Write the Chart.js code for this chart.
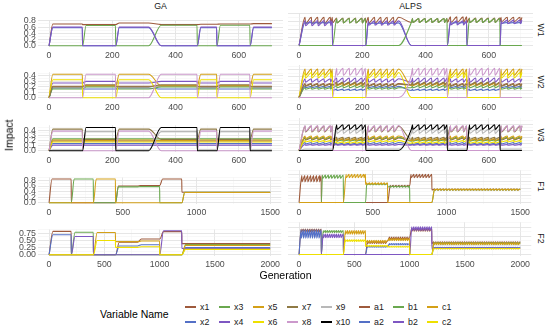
<!DOCTYPE html>
<html>
<head>
<meta charset="utf-8">
<script src="https://cdn.jsdelivr.net/npm/chart.js@4.4.1/dist/chart.umd.min.js"></script>
<style>
  body { margin: 0; background: #fff; width: 550px; height: 331px; overflow: hidden; position: relative;
         font-family: "Liberation Sans", Arial, sans-serif; }
  canvas { position: absolute; }
  .txt { position: absolute; white-space: nowrap; line-height: 1; }
  .strip { font-size: 8.8px; color: #1a1a1a; }
  .key { position: absolute; height: 1.4px; }
</style>
</head>
<body>
<script>
// generations where the environment switches
const wBounds = [0, 105, 210, 335, 468, 530, 635, 705];
const wBlend = [0, 0, 0, 40, 0, 0, 0];
const f1Bounds = [0, 150, 300, 450, 600, 750, 900, 1500];
const f2Bounds = [0, 200, 400, 600, 800, 1000, 1200, 2000];
const noBlend = [0, 0, 0, 0, 0, 0, 0];

// ALPS age-layer restarts (the saw teeth)
const alpsResets = [20, 40, 60, 80, 100, 120, 140, 160, 180, 200, 220, 240, 260, 280, 300, 320, 340, 360, 380, 400,
  420, 440, 460, 480, 500, 520, 540, 560, 580, 600, 620, 640, 660, 680, 700, 720, 740, 760, 780, 800,
  820, 840, 860, 880, 900, 920, 940, 960, 980, 1000, 1020, 1040, 1060, 1080, 1100, 1120, 1140, 1160, 1180, 1200,
  1220, 1240, 1260, 1280, 1300, 1320, 1340, 1360, 1380, 1400, 1420, 1440, 1460, 1480, 1500, 1520, 1540, 1560, 1580, 1600,
  1620, 1640, 1660, 1680, 1700, 1720, 1740, 1760, 1780, 1800, 1820, 1840, 1860, 1880, 1900, 1920, 1940, 1960, 1980];

const w1Vars = ["x1", "x2", "x3", "x4"];
const w2Vars = ["x1", "x2", "x3", "x4", "x5", "x6", "x7", "x8"];
const w3Vars = ["x1", "x2", "x3", "x4", "x5", "x6", "x7", "x8", "x9", "x10"];
const f1Vars = ["a1", "b1", "c1"];
const f2Vars = ["a1", "a2", "b1", "b2", "c1", "c2"];

// plateau level per segment, one row per variable
const gaW1 = [
  [0.70, 0.68, 0.73, 0.68, 0.69, 0.70, 0.71],
  [0.58, 0, 0.58, 0, 0.58, 0, 0.58],
  [0, 0.65, 0, 0.66, 0, 0.66, 0],
  [0.60, 0, 0.60, 0, 0.60, 0, 0.60]
];
const alpsW1Peak = [
  [0.71, 0.69, 0.71, 0.68, 0.72, 0.69, 0.71],
  [0.58, 0, 0.57, 0, 0.58, 0, 0.58],
  [0, 0.68, 0, 0.68, 0, 0.68, 0],
  [0.63, 0, 0.62, 0, 0.62, 0, 0.64]
];
const alpsW1Low = [
  [0.55, 0.57, 0.56, 0.58, 0.58, 0.58, 0.60],
  [0.56, 0, 0.55, 0, 0.56, 0, 0.56],
  [0, 0.57, 0, 0.58, 0, 0.58, 0],
  [0.50, 0, 0.51, 0, 0.52, 0, 0.55]
];

const gaW2 = [
  [0.21, 0.22, 0.21, 0.22, 0.21, 0.22, 0.21],
  [0.18, 0.16, 0.18, 0.16, 0.18, 0.16, 0.18],
  [0.16, 0.20, 0.16, 0.20, 0.16, 0.20, 0.16],
  [0.27, 0.30, 0.27, 0.30, 0.27, 0.30, 0.27],
  [0.43, 0.22, 0.43, 0.22, 0.43, 0.22, 0.43],
  [0.33, 0, 0.33, 0, 0.33, 0, 0.33],
  [0.20, 0.24, 0.20, 0.24, 0.20, 0.24, 0.20],
  [0, 0.43, 0, 0.43, 0, 0.43, 0]
];
const alpsW2Peak = [
  [0.20, 0.21, 0.20, 0.21, 0.20, 0.21, 0.20],
  [0.16, 0.12, 0.16, 0.12, 0.16, 0.12, 0.16],
  [0.14, 0.17, 0.14, 0.17, 0.14, 0.17, 0.14],
  [0.27, 0.28, 0.27, 0.28, 0.27, 0.28, 0.27],
  [0.41, 0.20, 0.41, 0.20, 0.41, 0.20, 0.41],
  [0.36, 0, 0.36, 0, 0.36, 0, 0.36],
  [0.19, 0.22, 0.19, 0.22, 0.19, 0.22, 0.19],
  [0, 0.42, 0, 0.42, 0, 0.42, 0]
];
const alpsW2Low = [
  [0.17, 0.18, 0.17, 0.18, 0.17, 0.18, 0.17],
  [0.14, 0.10, 0.14, 0.10, 0.14, 0.10, 0.14],
  [0.12, 0.14, 0.12, 0.14, 0.12, 0.14, 0.12],
  [0.22, 0.22, 0.22, 0.22, 0.22, 0.22, 0.22],
  [0.32, 0.17, 0.32, 0.17, 0.32, 0.17, 0.32],
  [0.28, 0, 0.28, 0, 0.28, 0, 0.28],
  [0.16, 0.18, 0.16, 0.18, 0.16, 0.18, 0.16],
  [0, 0.32, 0, 0.32, 0, 0.32, 0]
];

const gaW3 = [
  [0.19, 0.19, 0.19, 0.19, 0.19, 0.19, 0.19],
  [0.14, 0.14, 0.14, 0.14, 0.14, 0.14, 0.14],
  [0.23, 0.23, 0.23, 0.23, 0.23, 0.23, 0.23],
  [0.11, 0.11, 0.11, 0.11, 0.11, 0.11, 0.11],
  [0.21, 0.20, 0.21, 0.20, 0.21, 0.20, 0.21],
  [0.17, 0.17, 0.17, 0.17, 0.17, 0.17, 0.17],
  [0.42, 0.22, 0.42, 0.22, 0.42, 0.22, 0.42],
  [0.38, 0, 0.38, 0, 0.38, 0, 0.38],
  [0.02, 0.37, 0.02, 0.37, 0.02, 0.37, 0.02],
  [0, 0.45, 0, 0.45, 0, 0.45, 0]
];
const alpsW3Peak = [
  [0.19, 0.17, 0.19, 0.17, 0.19, 0.17, 0.19],
  [0.12, 0.11, 0.12, 0.11, 0.12, 0.11, 0.12],
  [0.20, 0.16, 0.20, 0.16, 0.20, 0.16, 0.20],
  [0.09, 0.09, 0.09, 0.09, 0.09, 0.09, 0.09],
  [0.22, 0.18, 0.22, 0.18, 0.22, 0.18, 0.22],
  [0.15, 0.13, 0.15, 0.13, 0.15, 0.13, 0.15],
  [0.37, 0.20, 0.37, 0.20, 0.37, 0.20, 0.37],
  [0.38, 0, 0.38, 0, 0.38, 0, 0.38],
  [0.02, 0.32, 0.02, 0.32, 0.02, 0.32, 0.02],
  [0, 0.39, 0, 0.39, 0, 0.39, 0]
];
const alpsW3Low = [
  [0.16, 0.15, 0.16, 0.15, 0.16, 0.15, 0.16],
  [0.10, 0.09, 0.10, 0.09, 0.10, 0.09, 0.10],
  [0.17, 0.14, 0.17, 0.14, 0.17, 0.14, 0.17],
  [0.08, 0.08, 0.08, 0.08, 0.08, 0.08, 0.08],
  [0.18, 0.15, 0.18, 0.15, 0.18, 0.15, 0.18],
  [0.13, 0.11, 0.13, 0.11, 0.13, 0.11, 0.13],
  [0.28, 0.17, 0.28, 0.17, 0.28, 0.17, 0.28],
  [0.29, 0, 0.29, 0, 0.29, 0, 0.29],
  [0.02, 0.26, 0.02, 0.26, 0.02, 0.26, 0.02],
  [0, 0.32, 0, 0.32, 0, 0.32, 0]
];

const gaF1 = [
  [0.85, 0, 0, 0.60, 0.62, 0.85, 0.38],
  [0, 0.85, 0, 0.57, 0.58, 0, 0.38],
  [0, 0, 0.85, 0, 0, 0, 0.37]
];
const alpsF1Peak = [
  [0.76, 0, 0, 0, 0.48, 0.79, 0.38],
  [0, 0.77, 0, 0.53, 0.46, 0, 0.37],
  [0, 0, 0.79, 0.55, 0, 0, 0.38]
];
const alpsF1Low = [
  [0.58, 0, 0, 0, 0.44, 0.70, 0.35],
  [0, 0.68, 0, 0.50, 0.43, 0, 0.35],
  [0, 0, 0.70, 0.51, 0, 0, 0.35]
];

const gaF2 = [
  [0.82, 0, 0, 0.44, 0.55, 0.81, 0.39],
  [0.70, 0, 0, 0.31, 0.35, 0, 0.25],
  [0, 0.79, 0, 0, 0, 0, 0.36],
  [0, 0.64, 0, 0, 0, 0.84, 0.22],
  [0, 0, 0.78, 0.46, 0.48, 0, 0.33],
  [0, 0, 0.50, 0.26, 0.28, 0, 0.19]
];
const alpsF2Peak = [
  [0.70, 0, 0, 0.37, 0.48, 0.72, 0.35],
  [0.68, 0, 0, 0.22, 0.30, 0, 0.20],
  [0, 0.66, 0, 0, 0, 0, 0.33],
  [0, 0.56, 0, 0, 0, 0.76, 0.18],
  [0, 0, 0.66, 0.39, 0.44, 0, 0.32],
  [0, 0, 0.40, 0.25, 0.22, 0, 0.17]
];
const alpsF2Low = [
  [0.62, 0, 0, 0.30, 0.40, 0.64, 0.29],
  [0.45, 0, 0, 0.20, 0.27, 0, 0.18],
  [0, 0.60, 0, 0, 0, 0, 0.28],
  [0, 0.46, 0, 0, 0, 0.66, 0.16],
  [0, 0, 0.56, 0.32, 0.38, 0, 0.27],
  [0, 0, 0.36, 0.22, 0.20, 0, 0.15]
];

// axis breaks
const wXMajor = [0, 200, 400, 600];
const wXMinor = [100, 300, 500, 700];
const f1XMajor = [0, 500, 1000, 1500];
const f1XMinor = [250, 750, 1250];
const f2XMajor = [0, 500, 1000, 1500, 2000];
const f2XMinor = [250, 750, 1250, 1750];
const w1YMajor = [0, 0.2, 0.4, 0.6, 0.8];
const w1YMinor = [0.1, 0.3, 0.5, 0.7];
const w2YMajor = [0, 0.1, 0.2, 0.3, 0.4];
const w2YMinor = [0.05, 0.15, 0.25, 0.35, 0.45];
const f1YMajor = [0, 0.2, 0.4, 0.6, 0.8];
const f1YMinor = [0.1, 0.3, 0.5, 0.7, 0.9];
const f2YMajor = [0, 0.25, 0.5, 0.75];
const f2YMinor = [0.125, 0.375, 0.625, 0.875];

const colors = {
  x1: "#9E5A3C", x2: "#5470C6", x3: "#6AA84F", x4: "#7E57C2", x5: "#D4A017",
  x6: "#EEE000", x7: "#8F7A45", x8: "#CC99CC", x9: "#B8B8B8", x10: "#000000",
  a1: "#9E5A3C", a2: "#5470C6", b1: "#6AA84F", b2: "#7E57C2", c1: "#D4A017", c2: "#EEE000"
};

// GA: plateau per segment, quick rise after a switch
const gaPoints = (levels, bounds, blend, rise) => {
  const pts = [];
  for (let i = 0; i < levels.length; i++) {
    const a = bounds[i], b = bounds[i + 1], v = levels[i];
    const w = blend[i] || 0, wn = blend[i + 1] || 0;
    if (i === 0) pts.push({ x: a, y: 0 });
    else if (w > 0) pts.push({ x: a + w / 2, y: v });
    else pts.push({ x: a + 1, y: Math.min(levels[i - 1], v) });
    if (w === 0) pts.push({ x: a + rise, y: v });
    pts.push({ x: b - wn / 2, y: v });
  }
  return pts;
};

// ALPS: same segments, but every restart drops the value to its low
// and it climbs back to the peak before the next restart
const alpsPoints = (peaks, lows, bounds, blend, rise) => {
  const pts = [];
  for (let i = 0; i < peaks.length; i++) {
    const a = bounds[i], b = bounds[i + 1], hi = peaks[i], lo = lows[i];
    const w = blend[i] || 0, wn = blend[i + 1] || 0;
    let from;
    if (i === 0) { pts.push({ x: a, y: 0 }); from = a; }
    else if (w > 0) { pts.push({ x: a + w / 2, y: lo }); from = a + w / 2; }
    else { pts.push({ x: a + 1, y: Math.min(peaks[i - 1], lo) }); from = a + 1; }
    const end = b - wn / 2;
    alpsResets.filter((r) => r > from + 2 && r < end - 2).forEach((r) => {
      pts.push({ x: r - 1, y: hi });
      pts.push({ x: r, y: lo });
    });
    pts.push({ x: end, y: hi });
  }
  return pts;
};

const makeSets = (vars, builder) =>
  vars.map((v, k) => ({
    data: builder(k),
    borderColor: colors[v],
    borderWidth: 1.1,
    pointRadius: 0,
    fill: false,
    cubicInterpolationMode: "monotone"
  })).reverse();

const addText = (text, css, cls) => {
  const d = document.createElement("div");
  d.className = "txt " + (cls || "");
  d.textContent = text;
  Object.assign(d.style, css);
  document.body.appendChild(d);
  return d;
};

const addPanel = (left, top, width, yAxisW, xr, yr, xMaj, xMin, yMaj, yMin, yDec, datasets) => {
  const plotH = 34, axisH = 16;
  const c = document.createElement("canvas");
  c.width = width; c.height = plotH + axisH;
  c.style.left = left + "px"; c.style.top = top + "px";
  document.body.appendChild(c);
  const isMaj = (list, v) => list.includes(v);
  const gridOpts = (maj) => ({
    color: (ctx) => (ctx.tick && isMaj(maj, ctx.tick.value) ? "#E3E3E3" : "#F1F1F1"),
    lineWidth: (ctx) => (ctx.tick && isMaj(maj, ctx.tick.value) ? 0.9 : 0.5),
    drawTicks: false
  });
  new Chart(c, {
    type: "line",
    data: { datasets },
    options: {
      responsive: false,
      animation: false,
      layout: { padding: 0 },
      plugins: { legend: { display: false }, tooltip: { enabled: false } },
      scales: {
        x: {
          type: "linear", min: xr[0], max: xr[1],
          afterBuildTicks: (s) => { s.ticks = xMaj.concat(xMin).sort((p, q) => p - q).map((v) => ({ value: v })); },
          afterFit: (s) => { s.height = axisH; },
          grid: gridOpts(xMaj),
          border: { display: false },
          ticks: {
            autoSkip: false, maxRotation: 0, padding: 3, color: "#4D4D4D",
            font: { family: "Liberation Sans", size: 8.8 },
            callback: (v) => (isMaj(xMaj, v) ? String(v) : "")
          }
        },
        y: {
          type: "linear", min: yr[0], max: yr[1],
          afterBuildTicks: (s) => { s.ticks = yMaj.concat(yMin).sort((p, q) => p - q).map((v) => ({ value: v })); },
          afterFit: (s) => { s.width = yAxisW; },
          grid: gridOpts(yMaj),
          border: { display: false },
          ticks: {
            display: yAxisW > 0, autoSkip: false, padding: 2, color: "#4D4D4D",
            font: { family: "Liberation Sans", size: 8.8 },
            callback: (v) => (isMaj(yMaj, v) ? v.toFixed(yDec) : "")
          }
        }
      }
    }
  });
};

// rows: W1, W2, W3, F1, F2
const rowTops = [13, 65, 118, 170, 222];
const leftX = 0, leftW = 283, leftAxis = 38;
const rightX = 288, rightW = 245;
const wRange = [-35, 740];
const f1Range = [-75, 1575];
const f2Range = [-100, 2100];

const rows = [
  { name: "W1", vars: w1Vars, ga: gaW1, pk: alpsW1Peak, lo: alpsW1Low, b: wBounds, bl: wBlend, xr: wRange,
    xM: wXMajor, xm: wXMinor, yr: [-0.039, 0.819], yM: w1YMajor, ym: w1YMinor, dec: 1, rise: 12 },
  { name: "W2", vars: w2Vars, ga: gaW2, pk: alpsW2Peak, lo: alpsW2Low, b: wBounds, bl: wBlend, xr: wRange,
    xM: wXMajor, xm: wXMinor, yr: [-0.022, 0.467], yM: w2YMajor, ym: w2YMinor, dec: 1, rise: 12 },
  { name: "W3", vars: w3Vars, ga: gaW3, pk: alpsW3Peak, lo: alpsW3Low, b: wBounds, bl: wBlend, xr: wRange,
    xM: wXMajor, xm: wXMinor, yr: [-0.0235, 0.4935], yM: w2YMajor, ym: w2YMinor, dec: 1, rise: 12 },
  { name: "F1", vars: f1Vars, ga: gaF1, pk: alpsF1Peak, lo: alpsF1Low, b: f1Bounds, bl: noBlend, xr: f1Range,
    xM: f1XMajor, xm: f1XMinor, yr: [-0.0435, 0.9135], yM: f1YMajor, ym: f1YMinor, dec: 1, rise: 20 },
  { name: "F2", vars: f2Vars, ga: gaF2, pk: alpsF2Peak, lo: alpsF2Low, b: f2Bounds, bl: noBlend, xr: f2Range,
    xM: f2XMajor, xm: f2XMinor, yr: [-0.0425, 0.8925], yM: f2YMajor, ym: f2YMinor, dec: 2, rise: 35 }
];

rows.forEach((r, i) => {
  const top = rowTops[i];
  addPanel(leftX, top, leftW, leftAxis, r.xr, r.yr, r.xM, r.xm, r.yM, r.ym, r.dec,
    makeSets(r.vars, (k) => gaPoints(r.ga[k], r.b, r.bl, r.rise)));
  addPanel(rightX, top, rightW, 0, r.xr, r.yr, r.xM, r.xm, r.yM, r.ym, r.dec,
    makeSets(r.vars, (k) => alpsPoints(r.pk[k], r.lo[k], r.b, r.bl, 9)));
  addText(r.name, { left: "535px", top: (top + 17 - 5) + "px", width: "12px", textAlign: "center",
    transform: "rotate(90deg)", transformOrigin: "50% 50%" }, "strip");
});

// strip titles and axis titles
addText("GA", { left: "38px", width: "245px", top: "2px", textAlign: "center" }, "strip");
addText("ALPS", { left: "288px", width: "245px", top: "2px", textAlign: "center" }, "strip");
addText("Generation", { left: "38px", width: "495px", top: "270px", textAlign: "center", fontSize: "10.5px", color: "#000" });
addText("Impact", { left: "-16px", width: "50px", top: "130px", textAlign: "center", fontSize: "10.5px", color: "#000",
  transform: "rotate(-90deg)" });

// legend
addText("Variable Name", { left: "100px", top: "309px", fontSize: "10.5px", color: "#000" });
const legendTop = ["x1", "x3", "x5", "x7", "x9", "a1", "b1", "c1"];
const legendBottom = ["x2", "x4", "x6", "x8", "x10", "a2", "b2", "c2"];
const legendX = [200, 234, 268, 302, 336, 374, 408, 442];
[[legendTop, 307], [legendBottom, 322]].forEach(([names, cy]) => {
  names.forEach((n, j) => {
    const k = document.createElement("div");
    k.className = "key";
    Object.assign(k.style, { left: (legendX[j] - 15) + "px", width: "11px", top: (cy - 0.7) + "px", background: colors[n] });
    document.body.appendChild(k);
    addText(n, { left: legendX[j] + "px", top: (cy - 4.5) + "px", fontSize: "8.8px", color: "#1a1a1a" });
  });
});
</script>
</body>
</html>
